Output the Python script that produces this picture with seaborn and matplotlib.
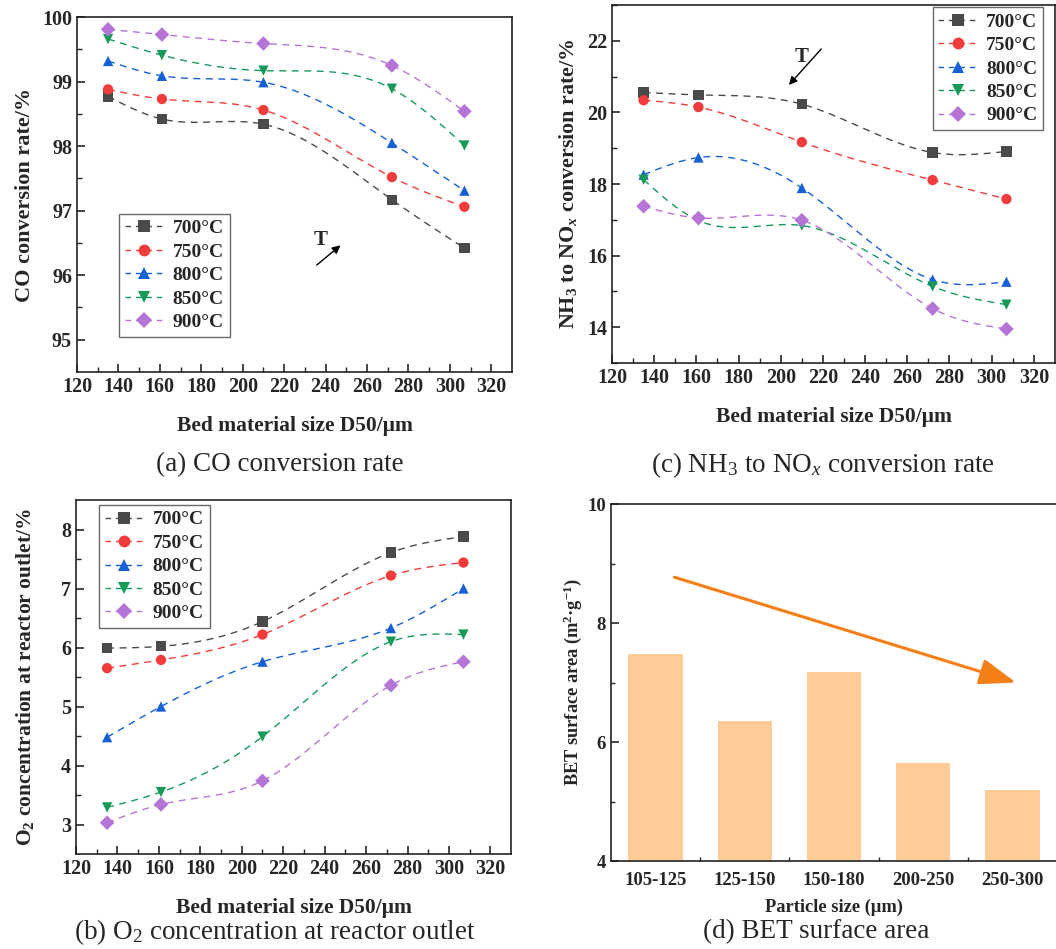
import numpy as np
import matplotlib
matplotlib.use("Agg")
import matplotlib.pyplot as plt
from matplotlib.lines import Line2D
import seaborn as sns

# ==========================================
# DATA
# ==========================================

d50 = [135, 161, 210, 272, 307]
temps = ["700°C", "750°C", "800°C", "850°C", "900°C"]

co_rate = {
    "700°C": [98.77, 98.42, 98.34, 97.17, 96.42],
    "750°C": [98.88, 98.73, 98.56, 97.52, 97.06],
    "800°C": [99.32, 99.09, 98.99, 98.05, 97.31],
    "850°C": [99.66, 99.41, 99.17, 98.89, 98.01],
    "900°C": [99.81, 99.73, 99.59, 99.25, 98.54],
}

o2_conc = {
    "700°C": [5.99, 6.02, 6.44, 7.61, 7.88],
    "750°C": [5.65, 5.79, 6.22, 7.22, 7.44],
    "800°C": [4.48, 5.00, 5.76, 6.33, 7.00],
    "850°C": [3.29, 3.55, 4.49, 6.10, 6.22],
    "900°C": [3.03, 3.34, 3.74, 5.36, 5.76],
}

nh3_nox = {
    "700°C": [20.56, 20.49, 20.23, 18.88, 18.91],
    "750°C": [20.34, 20.15, 19.17, 18.11, 17.58],
    "800°C": [18.26, 18.74, 17.89, 15.33, 15.27],
    "850°C": [18.12, 16.98, 16.84, 15.14, 14.63],
    "900°C": [17.38, 17.05, 16.99, 14.52, 13.95],
}

particle_size = ["105-125", "125-150", "150-180", "200-250", "250-300"]
bet_area = [7.48, 6.36, 7.17, 5.65, 5.20]

colors = {
    "700°C": "#4a4a4a",
    "750°C": "#f23b3b",
    "800°C": "#1560d4",
    "850°C": "#17995a",
    "900°C": "#b575d6",
}
markers = {"700°C": "s", "750°C": "o", "800°C": "^", "850°C": "v", "900°C": "D"}

# ==========================================
# STYLE
# ==========================================

sns.set_style("ticks")
plt.rcParams["font.family"] = ["Liberation Serif", "DejaVu Serif"]
plt.rcParams["mathtext.fontset"] = "custom"
plt.rcParams["mathtext.rm"] = "Liberation Serif"
plt.rcParams["mathtext.it"] = "Liberation Serif:italic"
plt.rcParams["mathtext.bf"] = "Liberation Serif:bold"
plt.rcParams["mathtext.bfit"] = "Liberation Serif:bold:italic"
plt.rcParams["axes.linewidth"] = 1.2
plt.rcParams["axes.edgecolor"] = "#222222"


def natural_spline(x, y, n=300):
    # smooth connector like Origin's spline line
    x = np.asarray(x, float)
    y = np.asarray(y, float)
    k = len(x)
    h = np.diff(x)
    A = np.zeros((k, k))
    b = np.zeros(k)
    A[0, 0] = 1
    A[-1, -1] = 1
    for i in range(1, k - 1):
        A[i, i - 1] = h[i - 1]
        A[i, i] = 2 * (h[i - 1] + h[i])
        A[i, i + 1] = h[i]
        b[i] = 6 * ((y[i + 1] - y[i]) / h[i] - (y[i] - y[i - 1]) / h[i - 1])
    M = np.linalg.solve(A, b)
    xs = np.linspace(x[0], x[-1], n)
    idx = np.clip(np.searchsorted(x, xs) - 1, 0, k - 2)
    x0, x1 = x[idx], x[idx + 1]
    hh = x1 - x0
    t0 = x1 - xs
    t1 = xs - x0
    ys = (M[idx] * t0 ** 3 / (6 * hh) + M[idx + 1] * t1 ** 3 / (6 * hh)
          + (y[idx] / hh - M[idx] * hh / 6) * t0
          + (y[idx + 1] / hh - M[idx + 1] * hh / 6) * t1)
    return xs, ys


def line_panel(ax, data, ylim, yticks, yminor, ylabel, ylabel_size, ylab_x,
               legend_kw):
    for t in temps:
        xs, ys = natural_spline(d50, data[t])
        ax.plot(xs, ys, ls=(0, (5, 4)), lw=1.0, color=colors[t], zorder=2)
        sns.scatterplot(x=d50, y=data[t], ax=ax, marker=markers[t],
                        color=colors[t], s=55, edgecolor="none", zorder=3)
    ax.set_xlim(120, 330)
    ax.set_ylim(*ylim)
    ax.set_xticks(range(120, 321, 20))
    ax.set_xticks(range(130, 321, 20), minor=True)
    ax.set_yticks(yticks)
    ax.set_yticks(yminor, minor=True)
    ax.tick_params(which="both", direction="in", labelsize=14.5)
    ax.tick_params(which="major", length=6, width=1.2)
    ax.tick_params(which="minor", length=3.5, width=1.0)
    for lab in ax.get_xticklabels() + ax.get_yticklabels():
        lab.set_fontweight("bold")
    ax.set_xlabel("Bed material size D50/μm", fontsize=15.5, fontweight="bold",
                  labelpad=14)
    ax.set_ylabel(ylabel, fontsize=ylabel_size, fontweight="bold")
    ax.yaxis.set_label_coords(ylab_x, 0.5)
    handles = [Line2D([0], [0], color=colors[t], ls=(0, (4, 3.5)), lw=1.0,
                      marker=markers[t], markersize=8.5, markeredgewidth=0)
               for t in temps]
    leg = ax.legend(handles, temps, prop={"weight": "bold", "size": 14},
                    frameon=True, fancybox=False, handlelength=2.0,
                    handletextpad=0.45, labelspacing=0.3, borderpad=0.3,
                    borderaxespad=0, **legend_kw)
    leg.get_frame().set_edgecolor("#444444")
    leg.get_frame().set_linewidth(1.0)


fig = plt.figure(figsize=(10.56, 9.49), dpi=100)

ax_a = fig.add_axes([0.0729, 0.608, 0.412, 0.374])
ax_c = fig.add_axes([0.5795, 0.6175, 0.4195, 0.3772])
ax_b = fig.add_axes([0.072, 0.1001, 0.412, 0.373])
ax_d = fig.add_axes([0.5786, 0.0927, 0.4223, 0.3762])

# ==========================================
# (a) CO conversion rate
# ==========================================

line_panel(ax_a, co_rate, (94.5, 100), [95, 96, 97, 98, 99, 100],
           np.arange(95.5, 100, 1.0), "CO conversion rate/%", 16, -0.096,
           dict(loc="lower left", bbox_to_anchor=(0.097, 0.099)))
ax_a.annotate("", xy=(248.2, 96.49), xytext=(234.7, 96.13),
              arrowprops=dict(arrowstyle="-|>", color="black", lw=1.0,
                              mutation_scale=12))
ax_a.text(237.6, 96.55, "T", fontsize=15, fontweight="bold",
          ha="center", va="center")

# ==========================================
# (c) NH3 to NOx conversion rate
# ==========================================

line_panel(ax_c, nh3_nox, (13, 23), [14, 16, 18, 20, 22],
           [13, 15, 17, 19, 21, 23],
           r"NH$_\mathbf{3}$ to NO$_{\mathbfit{x}}$ conversion rate/%", 15.8,
           -0.075,
           dict(loc="upper right", bbox_to_anchor=(0.973, 0.994)))
ax_c.annotate("", xy=(203.0, 20.71), xytext=(220.1, 21.83),
              arrowprops=dict(arrowstyle="-|>", color="black", lw=1.0,
                              mutation_scale=12))
ax_c.text(210.0, 21.56, "T", fontsize=15, fontweight="bold",
          ha="center", va="center")

# ==========================================
# (b) O2 concentration
# ==========================================

line_panel(ax_b, o2_conc, (2.5, 8.5), [3, 4, 5, 6, 7, 8],
           np.arange(3.5, 8.5, 1.0),
           r"O$_\mathbf{2}$ concentration at reactor outlet/%", 15.5, -0.091,
           dict(loc="upper left", bbox_to_anchor=(0.053, 0.986)))

# ==========================================
# (d) BET surface area
# ==========================================

sns.barplot(x=particle_size, y=bet_area, ax=ax_d, color="#ffcb96",
            width=0.61, saturation=1, edgecolor="none")
ax_d.set_xlim(-0.5, 4.5)
ax_d.set_ylim(4, 10)
ax_d.set_yticks([4, 6, 8, 10])
ax_d.set_yticks([5, 7, 9], minor=True)
ax_d.set_xticks(np.arange(0.5, 4.5, 1.0), minor=True)
ax_d.tick_params(which="both", direction="in", labelsize=13.5)
ax_d.tick_params(which="major", length=6, width=1.2)
ax_d.tick_params(which="minor", length=3, width=1.0)
ax_d.tick_params(axis="x", pad=8)
for lab in ax_d.get_xticklabels() + ax_d.get_yticklabels():
    lab.set_fontweight("bold")
ax_d.set_xlabel("Particle size (μm)", fontsize=13.3, fontweight="bold",
                labelpad=7)
ax_d.set_ylabel(r"BET surface area (m$^\mathbf{2}$·g$^\mathbf{-1}$)",
                fontsize=13.2, fontweight="bold")
ax_d.yaxis.set_label_coords(-0.061, 0.5)
ax_d.annotate("", xy=(4.04, 7.0), xytext=(0.21, 8.77),
              arrowprops=dict(arrowstyle="-|>,head_length=1.4,head_width=0.5",
                              color="#f57f17", lw=2.2, mutation_scale=16,
                              shrinkA=0, shrinkB=0))

for ax in (ax_a, ax_b, ax_c, ax_d):
    for sp in ax.spines.values():
        sp.set_visible(True)

# ==========================================
# CAPTIONS
# ==========================================

cap = dict(fontsize=19.5, ha="center", va="center")
fig.text(280 / 1056, 1 - 465 / 949, "(a) CO conversion rate", **cap)
fig.text(823 / 1056, 1 - 465 / 949,
         r"(c) NH$_3$ to NO$_x$ conversion rate", **cap)
fig.text(275 / 1056, 1 - 932 / 949,
         r"(b) O$_2$ concentration at reactor outlet", **cap)
fig.text(816 / 1056, 1 - 932 / 949, "(d) BET surface area", **cap)

fig.savefig("out.png", dpi=100)
